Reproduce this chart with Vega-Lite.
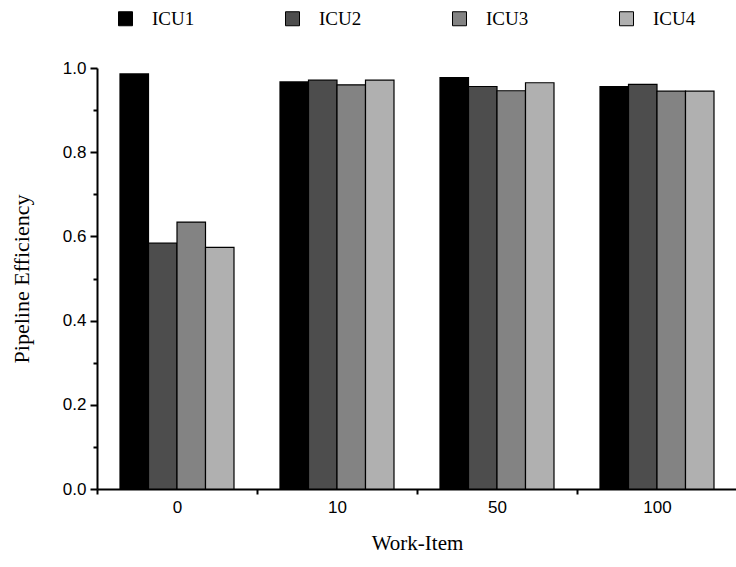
{
  "$schema": "https://vega.github.io/schema/vega-lite/v6.json",
  "autosize": {"type": "none"},
  "padding": {"left": 97, "top": 68, "right": 0, "bottom": 78},
  "width": 640,
  "height": 421,
  "background": "white",
  "config": {"view": {"stroke": null}},
  "data": {
    "values": [
      {"work": "0", "icu": "ICU1", "eff": 0.986},
      {"work": "0", "icu": "ICU2", "eff": 0.584},
      {"work": "0", "icu": "ICU3", "eff": 0.634},
      {"work": "0", "icu": "ICU4", "eff": 0.574},
      {"work": "10", "icu": "ICU1", "eff": 0.967},
      {"work": "10", "icu": "ICU2", "eff": 0.971},
      {"work": "10", "icu": "ICU3", "eff": 0.960},
      {"work": "10", "icu": "ICU4", "eff": 0.971},
      {"work": "50", "icu": "ICU1", "eff": 0.977},
      {"work": "50", "icu": "ICU2", "eff": 0.956},
      {"work": "50", "icu": "ICU3", "eff": 0.946},
      {"work": "50", "icu": "ICU4", "eff": 0.965},
      {"work": "100", "icu": "ICU1", "eff": 0.956},
      {"work": "100", "icu": "ICU2", "eff": 0.961},
      {"work": "100", "icu": "ICU3", "eff": 0.945},
      {"work": "100", "icu": "ICU4", "eff": 0.945}
    ]
  },
  "mark": {"type": "bar", "stroke": "black", "strokeWidth": 1.2},
  "encoding": {
    "x": {
      "field": "work",
      "type": "nominal",
      "sort": ["0", "10", "50", "100"],
      "scale": {"paddingInner": 0, "paddingOuter": 0},
      "axis": {
        "title": "Work-Item",
        "titleFont": "Liberation Serif",
        "titleFontSize": 21,
        "titleFontWeight": "normal",
        "titleColor": "black",
        "titlePadding": 17,
        "labelAngle": 0,
        "labelFont": "Liberation Sans",
        "labelFontSize": 17,
        "labelColor": "black",
        "labelPadding": 5,
        "tickBand": "extent",
        "tickSize": 5,
        "tickWidth": 2,
        "tickColor": "black",
        "domainColor": "black",
        "domainWidth": 2
      }
    },
    "xOffset": {
      "field": "icu",
      "type": "nominal",
      "scale": {"paddingInner": 0, "paddingOuter": 0.807}
    },
    "y": {
      "field": "eff",
      "type": "quantitative",
      "scale": {"domain": [0, 1], "nice": false, "zero": true},
      "axis": {
        "title": "Pipeline Efficiency",
        "titleFont": "Liberation Serif",
        "titleFontSize": 22,
        "titleFontWeight": "normal",
        "titleColor": "black",
        "titlePadding": 29,
        "values": [0, 0.1, 0.2, 0.3, 0.4, 0.5, 0.6, 0.7, 0.8, 0.9, 1.0],
        "labelExpr": "round(datum.value * 10) % 2 == 0 ? format(datum.value, '.1f') : ''",
        "labelFont": "Liberation Sans",
        "labelFontSize": 17,
        "labelColor": "black",
        "labelPadding": 4,
        "tickSize": {"condition": {"test": "round(datum.value * 10) % 2 == 0", "value": 7}, "value": 4},
        "tickWidth": 2,
        "tickColor": "black",
        "domainColor": "black",
        "domainWidth": 2,
        "grid": false
      }
    },
    "color": {
      "field": "icu",
      "type": "nominal",
      "scale": {
        "domain": ["ICU1", "ICU2", "ICU3", "ICU4"],
        "range": ["#000000", "#4d4d4d", "#838383", "#b0b0b0"]
      },
      "legend": {
        "title": null,
        "orient": "none",
        "legendX": 19,
        "legendY": -59,
        "direction": "horizontal",
        "columns": 4,
        "columnPadding": 88,
        "symbolType": "square",
        "symbolSize": 196,
        "symbolStrokeColor": "black",
        "symbolStrokeWidth": 1,
        "symbolOpacity": 1,
        "labelFont": "Liberation Serif",
        "labelFontSize": 19,
        "labelColor": "black",
        "labelOffset": 17
      }
    }
  }
}
